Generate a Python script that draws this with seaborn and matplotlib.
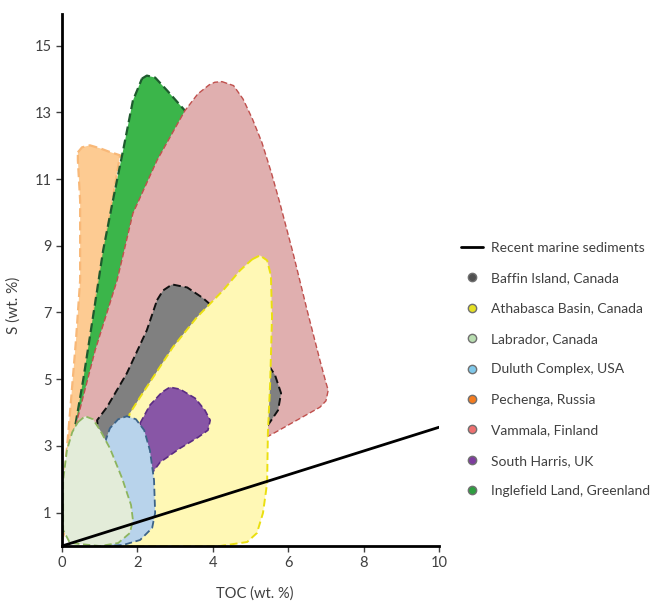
import matplotlib
matplotlib.use("Agg")
import matplotlib.pyplot as plt
import seaborn as sns
from matplotlib.lines import Line2D

# polygon outlines, TOC (wt. %) vs S (wt. %)
pechenga_toc = [0.42, 0.53, 0.74, 1.01, 1.22, 1.54, 0.88, 0.34, 0.0, 0.0, 0.08, 0.21, 0.37, 0.48, 0.48, 0.42]
pechenga_s = [11.80, 11.95, 12.01, 11.92, 11.83, 11.71, 7.37, 1.38, 0.18, 1.4, 2.28, 3.98, 6.17, 7.96, 10.36, 11.56]

inglefield_toc = [2.12, 2.25, 2.47, 2.79, 3.26, 3.40, 1.0, 0.32, 0.56, 0.93, 1.09, 1.35, 1.62, 1.88]
inglefield_s = [14.01, 14.10, 14.04, 13.65, 13.05, 12.16, 4.37, 3.41, 4.97, 7.66, 8.86, 10.36, 11.86, 13.35]

vammala_toc = [4.24, 4.55, 4.80, 5.05, 5.30, 5.55, 5.78, 6.13, 6.50, 6.84, 7.00, 7.06, 7.00, 6.84, 5.52,
               3.66, 0.27, 0.40, 0.88, 1.46, 1.88, 2.52, 3.26, 3.60, 3.90, 4.05]
vammala_s = [13.92, 13.80, 13.40, 12.80, 12.10, 11.20, 10.27, 8.77, 7.07, 5.57, 4.90, 4.67, 4.35, 4.16, 3.32,
             2.28, 2.87, 3.77, 5.87, 7.96, 9.97, 11.56, 13.05, 13.55, 13.82, 13.90]

baffin_toc = [2.52, 2.68, 2.92, 3.32, 3.74, 3.98, 5.31, 5.65, 5.81, 5.73, 5.46, 2.33, 1.01, 0.93, 1.19, 1.72, 2.25]
baffin_s = [7.37, 7.66, 7.84, 7.75, 7.43, 7.19, 5.72, 5.12, 4.58, 4.07, 3.62, 2.28, 3.02, 3.77, 4.16, 5.18, 6.47]

athabasca_toc = [5.04, 5.25, 5.44, 5.54, 5.57, 5.52, 5.46, 5.44, 5.33, 5.17, 4.91, 4.19, 1.27, 1.14, 1.80, 2.07, 2.94, 3.58, 4.27, 4.72]
athabasca_s = [8.59, 8.71, 8.56, 8.11, 6.86, 4.88, 3.38, 1.89, 0.99, 0.39, 0.12, 0.0, 0.0, 1.38, 3.98, 4.46, 5.96, 6.86, 7.66, 8.26]

harris_toc = [2.07, 2.33, 2.65, 2.86, 3.13, 3.53, 3.79, 3.93, 3.87, 3.61, 3.13, 2.60, 2.41, 2.25, 2.15]
harris_s = [3.68, 4.22, 4.61, 4.76, 4.70, 4.43, 4.07, 3.77, 3.47, 3.26, 2.93, 2.51, 2.22, 2.43, 3.02]

duluth_toc = [1.14, 1.27, 1.49, 1.72, 1.96, 2.18, 2.33, 2.44, 2.47, 2.39, 2.07, 1.62, 1.14, 0.95]
duluth_s = [3.11, 3.53, 3.80, 3.89, 3.80, 3.47, 2.87, 1.98, 0.99, 0.54, 0.18, 0.03, 0.0, 1.38]

labrador_toc = [0.42, 0.61, 0.82, 1.01, 1.27, 1.59, 1.83, 1.88, 1.80, 1.49, 1.01, 0.21, 0.03, 0.03, 0.13, 0.27]
labrador_s = [3.71, 3.89, 3.80, 3.47, 2.93, 2.04, 1.23, 0.78, 0.39, 0.09, 0.0, 0.09, 0.48, 1.98, 2.87, 3.41]

# recent marine sediments trend
marine_toc = [0, 10]
marine_s = [0, 3.56]

x_ticks = [0, 2, 4, 6, 8, 10]
y_ticks = [1, 3, 5, 7, 9, 11, 13, 15]

sns.set_style("ticks")
plt.rcParams["font.family"] = ["Lato", "DejaVu Sans"]

fig = plt.figure(figsize=(6.55, 6.03), dpi=100)
ax = fig.add_axes([0.0947, 0.0945, 0.5756, 0.8825])

# (toc, s, fill, edge, lw) in drawing order, back to front
regions = [
    (pechenga_toc, pechenga_s, "#FDCB92", "#F8B878", 1.6),
    (inglefield_toc, inglefield_s, "#3BB54A", "#1E5B2E", 1.6),
    (vammala_toc, vammala_s, "#E0AFAF", "#C0504D", 1.0),
    (baffin_toc, baffin_s, "#808080", "#111111", 1.4),
    (athabasca_toc, athabasca_s, "#FFF8B5", "#EADF10", 1.4),
    (harris_toc, harris_s, "#8856A6", "#5B2C83", 1.2),
    (duluth_toc, duluth_s, "#B8D3EB", "#3C6388", 1.3),
    (labrador_toc, labrador_s, "#E3ECD9", "#8DB55E", 1.3),
]
for xs, ys, fc, ec, lw in regions:
    ax.fill(xs, ys, facecolor=fc, edgecolor=ec, linewidth=lw,
            linestyle=(0, (4, 2)), joinstyle="round", zorder=2)

sns.lineplot(x=marine_toc, y=marine_s, ax=ax, color="black", linewidth=2, zorder=5)

ax.set_xlim(0, 10)
ax.set_ylim(0, 15.95)
ax.set_xticks(x_ticks)
ax.set_yticks(y_ticks)
ax.tick_params(labelsize=10.5, labelcolor="#404040", length=4, width=1, colors="#404040")
sns.despine(ax=ax)
for side in ["left", "bottom"]:
    ax.spines[side].set_linewidth(2)
    ax.spines[side].set_color("black")

ax.set_xlabel("TOC (wt. %)", fontsize=10.5, color="#404040")
ax.set_ylabel("S (wt. %)", fontsize=11, color="#404040")
ax.xaxis.set_label_coords(0.512, -0.075)
ax.yaxis.set_label_coords(-0.11, 0.453)

legend_names = ["Baffin Island, Canada", "Athabasca Basin, Canada", "Labrador, Canada",
                "Duluth Complex, USA", "Pechenga, Russia", "Vammala, Finland",
                "South Harris, UK", "Inglefield Land, Greenland"]
legend_colors = ["#505050", "#E5E024", "#B8DDB0", "#7FC8EA", "#F47C20", "#EE7070",
                 "#7E3D9E", "#2E9E40"]
handles = [Line2D([], [], color="black", linewidth=2)]
for c in legend_colors:
    handles.append(Line2D([], [], linestyle="none", marker="o", markersize=6,
                          markerfacecolor=c, markeredgecolor="#707070", markeredgewidth=1))
labels = ["Recent marine sediments"] + legend_names
fig.legend(handles, labels, loc="upper left", bbox_to_anchor=(0.6926, 0.611),
           frameon=False, fontsize=10, labelcolor="#404040", handlelength=1.6,
           handletextpad=0.6, labelspacing=1.33, borderpad=0)

fig.savefig("out.png", dpi=100)
